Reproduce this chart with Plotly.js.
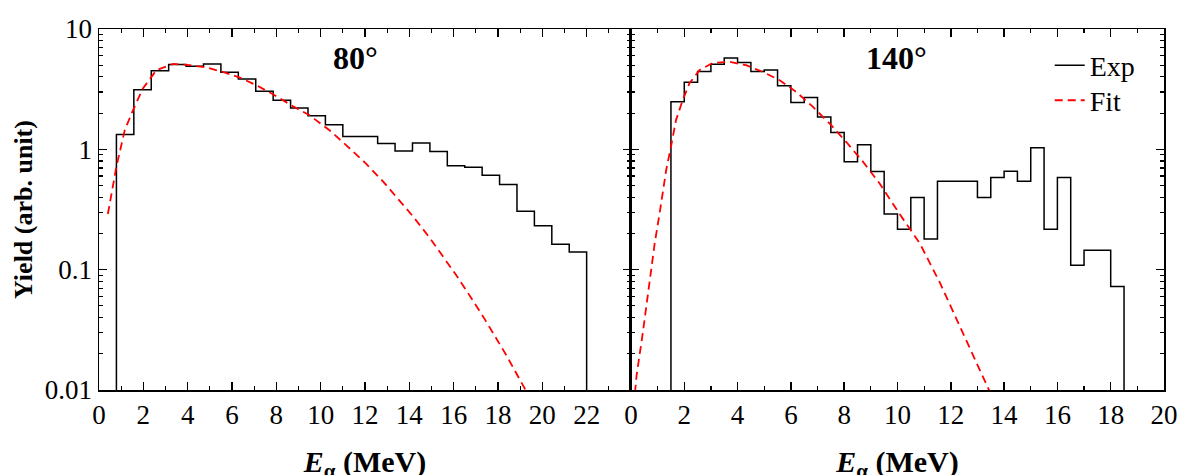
<!DOCTYPE html>
<html>
<head>
<meta charset="utf-8">
<script src="https://cdn.plot.ly/plotly-3.0.1.min.js"></script>
<style>html,body{margin:0;padding:0;background:#fff;overflow:hidden;}</style>
</head>
<body>
<div id="chart" style="width:1181px;height:490px;"></div>
<script>
// ---- 80 degree panel: experimental histogram (bin width 22/28 MeV) ----
const exp80Start = 22 / 28;
const exp80Width = 22 / 28;
const exp80Values = [1.33, 3.12, 4.49, 5.07, 4.91, 5.13, 4.37, 3.85, 3.04, 2.56, 2.21, 1.90, 1.60, 1.28,
  1.28, 1.12, 0.97, 1.13, 0.96, 0.73, 0.71, 0.61, 0.51, 0.306, 0.232, 0.163, 0.140];
// ---- 80 degree panel: fit curve ----
const fit80E = [0.40, 0.78, 1.16, 1.53, 1.98, 2.59, 3.34, 4.09, 4.84, 5.59, 6.35, 7.10, 7.85, 8.75, 9.50,
  10.40, 11.16, 12.00, 12.80, 13.56, 14.16, 14.92, 15.50, 16.12, 16.80, 17.47, 18.38, 19.25, 19.60];
const fit80Y = [0.29, 0.71, 1.44, 2.11, 3.20, 4.55, 5.13, 5.00, 4.80, 4.40, 3.95, 3.41, 2.87, 2.28, 1.92,
  1.44, 1.08, 0.776, 0.545, 0.378, 0.278, 0.184, 0.131, 0.0898, 0.058, 0.037, 0.0194, 0.0100, 0.0076];

// ---- 140 degree panel: experimental histogram (bin width 0.5 MeV) ----
const exp140Start = 1.5;
const exp140Width = 0.5;
const exp140Values = [2.48, 3.61, 4.43, 5.10, 5.75, 5.26, 4.43, 4.57, 3.37, 2.45, 2.69, 1.86, 1.38, 0.79,
  1.09, 0.654, 0.29, 0.217, 0.397, 0.180, 0.543, 0.543, 0.543, 0.397, 0.582, 0.658, 0.543, 1.03,
  0.217, 0.582, 0.109, 0.145, 0.145, 0.0723];
// ---- 140 degree panel: fit curve ----
const fit140E = [0.15, 0.21, 0.44, 0.66, 0.89, 1.10, 1.32, 1.50, 1.69, 1.94, 2.19, 2.57, 3.07, 3.70, 4.32,
  4.95, 5.58, 6.20, 6.83, 7.45, 8.08, 8.71, 9.33, 10.08, 10.84, 11.59, 12.34, 13.10, 13.41, 13.60];
const fit140Y = [0.0095, 0.0132, 0.0294, 0.0718, 0.165, 0.32, 0.67, 1.05, 1.75, 2.56, 3.52, 4.55, 5.23, 5.33, 5.00,
  4.40, 3.75, 3.00, 2.25, 1.64, 1.15, 0.786, 0.52, 0.29, 0.165, 0.078, 0.0334, 0.0146, 0.0100, 0.0083];

// ---- tick labels ----
const xTicks80 = [0, 2, 4, 6, 8, 10, 12, 14, 16, 18, 20, 22];
const xTicks140 = [0, 2, 4, 6, 8, 10, 12, 14, 16, 18, 20];
const yTickVals = [0.01, 0.1, 1, 10];
const yTickText = ['0.01', '0.1', '1', '10'];
const seriesNames = ['Exp', 'Fit'];
const panelLabels = ['80°', '140°'];

// build a closed step outline from bin start, width and values
function stepOutline(start, width, vals, floor) {
  const x = [start], y = [floor];
  for (let i = 0; i < vals.length; i++) { x.push(start + i * width); y.push(vals[i]); }
  const end = start + vals.length * width;
  x.push(end); y.push(vals[vals.length - 1]);
  x.push(end); y.push(floor);
  return {x, y};
}
const FLOOR = 1e-4;
const h80 = stepOutline(exp80Start, exp80Width, exp80Values, FLOOR);
const h140 = stepOutline(exp140Start, exp140Width, exp140Values, FLOOR);

const FONT = '"Liberation Serif"';
const expLine = {color: '#000', width: 1.5, shape: 'hv'};
const fitLine = {color: '#ff0000', width: 1.8, dash: '8px,5px'};

const traces = [
  {x: h80.x, y: h80.y, mode: 'lines', line: expLine, name: seriesNames[0], xaxis: 'x', yaxis: 'y', showlegend: false},
  {x: fit80E, y: fit80Y, mode: 'lines', line: fitLine, name: seriesNames[1], xaxis: 'x', yaxis: 'y', showlegend: false},
  {x: h140.x, y: h140.y, mode: 'lines', line: expLine, name: seriesNames[0], xaxis: 'x2', yaxis: 'y2', showlegend: true, legend: 'legend'},
  {x: fit140E, y: fit140Y, mode: 'lines', line: fitLine, name: seriesNames[1], xaxis: 'x2', yaxis: 'y2', showlegend: true, legend: 'legend2'}
];

const minorY = [];
[0.01, 0.1, 1].forEach(d => { for (let k = 2; k <= 9; k++) minorY.push(+(d * k).toPrecision(3)); });

function xAxis(range, domain, anchor, tickvals) {
  return {
    domain, range, anchor, type: 'linear',
    showline: true, linecolor: '#000', linewidth: 1.5, mirror: 'allticks',
    ticks: 'inside', ticklen: 8, tickwidth: 1.5, tickcolor: '#000',
    tickmode: 'array', tickvals, ticktext: tickvals.map(String),
    minor: {ticks: 'inside', ticklen: 4, tickwidth: 1.2, tickcolor: '#000', dtick: 1, tick0: 0},
    showgrid: false, zeroline: false,
    tickfont: {family: FONT, size: 27, color: '#000'},
    title: {text: '<b><i>E</i><sub>α</sub> (MeV)</b>', font: {family: FONT, size: 30, color: '#000'}, standoff: 22}
  };
}
function yAxis(anchor, labels) {
  return {
    type: 'log', range: [-2, 1], anchor, domain: [0, 1],
    showline: true, linecolor: '#000', linewidth: 1.5, mirror: 'allticks',
    ticks: 'inside', ticklen: 8, tickwidth: 1.5, tickcolor: '#000',
    tickmode: 'array', tickvals: yTickVals, ticktext: yTickText,
    minor: {ticks: 'inside', ticklen: 4, tickwidth: 1.2, tickcolor: '#000', tickmode: 'array', tickvals: minorY},
    showticklabels: labels, ticklabelstandoff: 0,
    showgrid: false, zeroline: false,
    tickfont: {family: FONT, size: 27, color: '#000'}
  };
}

const yA = yAxis('x', true);
yA.title = {text: '<b>Yield (arb. unit)</b>', font: {family: FONT, size: 26, color: '#000'}, standoff: 4};
const yB = yAxis('x2', false);

const legendBase = {x: 0.8927, xanchor: 'left', yanchor: 'top', bgcolor: 'rgba(0,0,0,0)',
  font: {family: FONT, size: 28, color: '#000'}};

const layout = {
  width: 1181, height: 490,
  margin: {l: 99, r: 17, t: 29, b: 100},
  paper_bgcolor: '#fff', plot_bgcolor: '#fff',
  font: {family: FONT, color: '#000'},
  xaxis: xAxis([0, 24], [0, 0.4995], 'y', xTicks80),
  xaxis2: xAxis([0, 20], [0.4995, 1], 'y2', xTicks140),
  yaxis: yA,
  yaxis2: yB,
  showlegend: true,
  legend: Object.assign({}, legendBase, {y: 0.968}),
  legend2: Object.assign({}, legendBase, {y: 0.871}),
  annotations: [
    {text: '<b>' + panelLabels[0] + '</b>', xref: 'paper', yref: 'paper', x: 0.2413, y: 0.919,
      xanchor: 'center', yanchor: 'middle', showarrow: false, font: {family: FONT, size: 32, color: '#000'}},
    {text: '<b>' + panelLabels[1] + '</b>', xref: 'paper', yref: 'paper', x: 0.7484, y: 0.919,
      xanchor: 'center', yanchor: 'middle', showarrow: false, font: {family: FONT, size: 32, color: '#000'}}
  ]
};

Plotly.newPlot('chart', traces, layout, {displayModeBar: false, staticPlot: true});
</script>
</body>
</html>
